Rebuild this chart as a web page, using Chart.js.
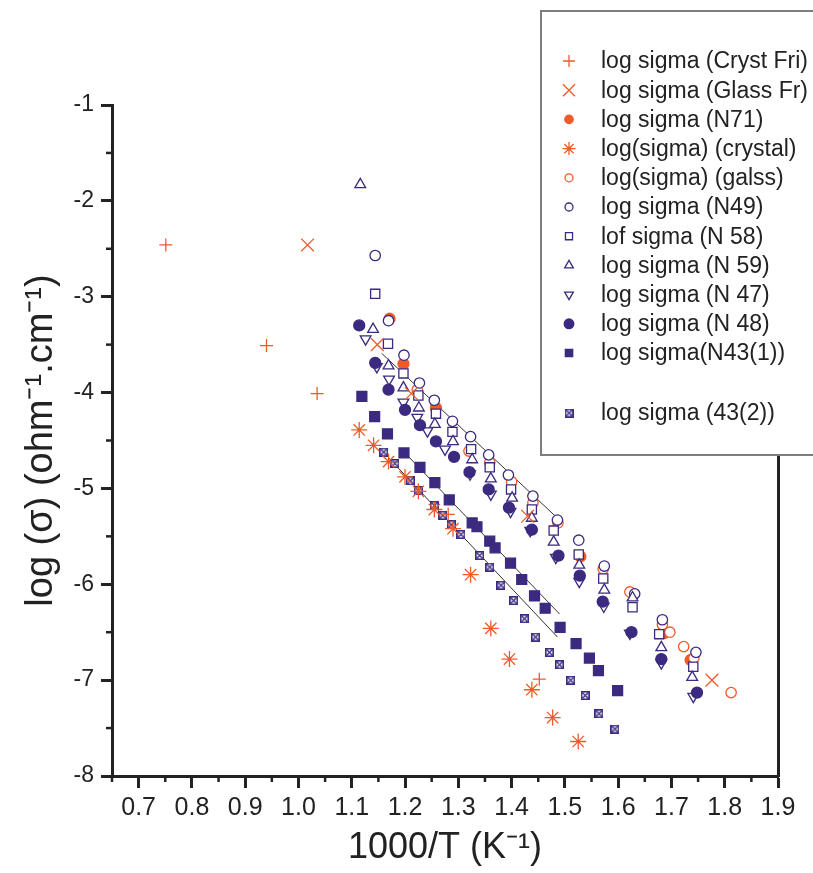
<!DOCTYPE html>
<html>
<head>
<meta charset="utf-8">
<script src="https://cdn.jsdelivr.net/npm/chart.js@4.4.1/dist/chart.umd.min.js"></script>
<style>
  html, body { margin: 0; padding: 0; background: #fff; }
</style>
</head>
<body>
<canvas id="arrhenius" width="813" height="873"></canvas>
<script>
// Conductivity data: [1000/T, log sigma]
const crystFri = [[0.751,-2.46],[0.940,-3.51],[1.035,-4.01],[1.281,-5.27],[1.452,-6.99]];
const glassFr = [[1.017,-2.46],[1.148,-3.50],[1.212,-4.01],[1.430,-5.29],[1.776,-7.00]];
const n71 = [[1.171,-3.23],[1.197,-3.70],[1.258,-4.16],[1.529,-5.71],[1.686,-6.51],[1.736,-6.79]];
const crystal = [[1.114,-4.39],[1.141,-4.55],[1.169,-4.72],[1.200,-4.88],[1.225,-5.03],[1.255,-5.22],
  [1.290,-5.42],[1.323,-5.90],[1.361,-6.46],[1.396,-6.78],[1.438,-7.10],[1.477,-7.39],[1.525,-7.64]];
const galss = [[1.223,-3.97],[1.320,-4.61],[1.359,-4.73],[1.400,-4.93],[1.440,-5.15],[1.487,-5.36],
  [1.572,-5.84],[1.622,-6.08],[1.683,-6.42],[1.697,-6.50],[1.723,-6.65],[1.742,-6.77],[1.812,-7.13]];
const n49 = [[1.144,-2.57],[1.169,-3.25],[1.198,-3.61],[1.227,-3.90],[1.255,-4.08],[1.289,-4.30],
  [1.323,-4.46],[1.357,-4.65],[1.394,-4.86],[1.440,-5.08],[1.486,-5.33],[1.526,-5.54],[1.574,-5.81],
  [1.631,-6.10],[1.683,-6.37],[1.746,-6.71]];
const n58 = [[1.144,-2.97],[1.168,-3.49],[1.197,-3.80],[1.225,-4.03],[1.258,-4.22],[1.289,-4.41],
  [1.324,-4.59],[1.359,-4.78],[1.399,-5.01],[1.438,-5.22],[1.479,-5.44],[1.526,-5.69],[1.572,-5.94],
  [1.627,-6.24],[1.677,-6.52],[1.741,-6.86]];
const n59 = [[1.116,-1.83],[1.140,-3.34],[1.169,-3.72],[1.197,-3.95],[1.226,-4.16],[1.256,-4.33],
  [1.290,-4.51],[1.326,-4.70],[1.361,-4.90],[1.401,-5.10],[1.438,-5.31],[1.479,-5.56],[1.527,-5.80],
  [1.574,-6.06],[1.627,-6.14],[1.681,-6.66],[1.739,-6.97]];
const n47 = [[1.126,-3.44],[1.147,-3.73],[1.170,-3.86],[1.197,-4.10],[1.223,-4.26],[1.242,-4.40],
  [1.275,-4.59],[1.322,-4.85],[1.361,-5.06],[1.398,-5.24],[1.435,-5.44],[1.483,-5.72],[1.527,-5.97],
  [1.573,-6.23],[1.622,-6.51],[1.681,-6.82],[1.741,-7.17]];
const n48 = [[1.114,-3.30],[1.144,-3.69],[1.169,-3.97],[1.200,-4.18],[1.228,-4.34],[1.258,-4.51],
  [1.292,-4.67],[1.321,-4.83],[1.357,-5.01],[1.395,-5.20],[1.438,-5.43],[1.488,-5.70],[1.528,-5.91],
  [1.571,-6.18],[1.625,-6.50],[1.681,-6.78],[1.748,-7.13]];
const n43a = [[1.119,-4.04],[1.143,-4.25],[1.167,-4.43],[1.198,-4.63],[1.228,-4.78],[1.256,-4.94],
  [1.283,-5.12],[1.326,-5.36],[1.335,-5.40],[1.359,-5.55],[1.369,-5.62],[1.398,-5.78],[1.419,-5.95],
  [1.443,-6.12],[1.463,-6.25],[1.491,-6.45],[1.521,-6.62],[1.546,-6.77],[1.563,-6.90],[1.599,-7.11]];
const n43b = [[1.160,-4.62],[1.181,-4.74],[1.210,-4.92],[1.225,-5.02],[1.255,-5.18],[1.271,-5.28],
  [1.287,-5.38],[1.305,-5.48],[1.340,-5.70],[1.359,-5.82],[1.380,-6.01],[1.404,-6.17],[1.424,-6.36],
  [1.445,-6.55],[1.471,-6.71],[1.490,-6.84],[1.511,-7.00],[1.538,-7.16],[1.564,-7.35],[1.594,-7.51]];

// straight fits drawn over the data
const fitUpper = [[1.156,-3.59],[1.490,-5.33]];
const fitMiddle = [[1.200,-4.63],[1.490,-6.31]];
const fitLower = [[1.159,-4.62],[1.486,-6.55]];

const seriesLabels = ['log sigma (Cryst Fri)', 'log sigma (Glass Fr)', 'log sigma (N71)',
  'log(sigma) (crystal)', 'log(sigma) (galss)', 'log sigma (N49)', 'lof sigma (N 58)',
  'log sigma (N 59)', 'log sigma (N 47)', 'log sigma (N 48)', 'log sigma(N43(1))', 'log sigma (43(2))'];
const seriesData = [crystFri, glassFr, n71, crystal, galss, n49, n58, n59, n47, n48, n43a, n43b];

const xTicks = [0.7, 0.8, 0.9, 1.0, 1.1, 1.2, 1.3, 1.4, 1.5, 1.6, 1.7, 1.8, 1.9];
const yTicks = [-1, -2, -3, -4, -5, -6, -7, -8];

const ORANGE = '#f05a28';
const PURPLE = '#3b2a7f';
const INK = '#222222';

Chart.defaults.font.family = '"Liberation Sans", Arial, Helvetica, sans-serif';
Chart.defaults.color = INK;

function crossBox(size) {
    const c = document.createElement('canvas');
    c.width = c.height = size;
    const g = c.getContext('2d');
    g.fillStyle = '#ffffff';
    g.fillRect(0, 0, size, size);
    g.strokeStyle = PURPLE;
    g.lineWidth = 1.6;
    g.strokeRect(0.8, 0.8, size - 1.6, size - 1.6);
    g.lineWidth = 1.3;
    g.beginPath();
    g.moveTo(1.5, 1.5); g.lineTo(size - 1.5, size - 1.5);
    g.moveTo(size - 1.5, 1.5); g.lineTo(1.5, size - 1.5);
    g.stroke();
    return c;
}
const boxMarker = crossBox(9);

// marker look per series, in the same order as seriesLabels
const styles = [
    { style: 'cross', r: 6.5, lr: 6, fg: ORANGE, bg: 'rgba(0,0,0,0)', z: 0 },
    { style: 'crossRot', r: 9, lr: 8.5, fg: ORANGE, bg: 'rgba(0,0,0,0)', z: 1 },
    { style: 'circle', r: 5.5, lr: 4.2, fg: ORANGE, bg: ORANGE, z: 11 },
    { style: 'star', r: 8, lr: 6.5, fg: ORANGE, bg: 'rgba(0,0,0,0)', z: 2 },
    { style: 'circle', r: 5.2, lr: 4, fg: ORANGE, bg: '#ffffff', z: 10 },
    { style: 'circle', r: 5.2, lr: 4, fg: PURPLE, bg: '#ffffff', z: 8 },
    { style: 'rect', r: 6.5, lr: 5, fg: PURPLE, bg: '#ffffff', z: 9 },
    { style: 'triangle', r: 6.2, lr: 5, fg: PURPLE, bg: '#ffffff', z: 7 },
    { style: 'triangle', rot: 180, r: 6.2, lr: 5, fg: PURPLE, bg: '#ffffff', z: 6 },
    { style: 'circle', r: 5.5, lr: 4.8, fg: PURPLE, bg: PURPLE, z: 5 },
    { style: 'rect', r: 7, lr: 5.2, fg: PURPLE, bg: PURPLE, z: 4 },
    { style: boxMarker, r: 4.5, lr: 4.5, fg: PURPLE, bg: PURPLE, z: 3 }
];

const toXY = arr => arr.map(p => ({ x: p[0], y: p[1] }));

const datasets = seriesData.map((d, i) => ({
    label: seriesLabels[i],
    data: toXY(d),
    pointStyle: styles[i].style,
    pointRadius: styles[i].r,
    pointRotation: styles[i].rot || 0,
    pointBorderColor: styles[i].fg,
    pointBackgroundColor: styles[i].bg,
    pointBorderWidth: 1.3,
    showLine: false,
    order: styles[i].z
}));

[fitUpper, fitMiddle, fitLower].forEach(f => {
    datasets.push({
        label: '',
        data: toXY(f),
        showLine: true,
        borderColor: '#333333',
        borderWidth: 1,
        pointRadius: 0,
        order: 12
    });
});

const midpoints = ticks => {
    const out = [];
    const step = ticks[1] - ticks[0];
    out.push(ticks[0] - step / 2);
    for (let i = 0; i < ticks.length - 1; i++) out.push((ticks[i] + ticks[i + 1]) / 2);
    return out;
};

// minor ticks + the boxed legend that overlaps the plot frame
const decorPlugin = {
    id: 'decor',
    afterDraw(chart) {
        const ctx = chart.ctx;
        const area = chart.chartArea;
        const xs = chart.scales.x;
        const ys = chart.scales.y;
        ctx.save();
        ctx.strokeStyle = INK;
        ctx.lineWidth = 2.5;
        midpoints(xTicks).forEach(v => {
            if (v < xs.min - 1e-9) return;
            const p = xs.getPixelForValue(v);
            ctx.beginPath(); ctx.moveTo(p, area.bottom); ctx.lineTo(p, area.bottom + 6); ctx.stroke();
        });
        midpoints(yTicks).forEach(v => {
            if (v > ys.max + 1e-9) return;
            const p = ys.getPixelForValue(v);
            ctx.beginPath(); ctx.moveTo(area.left, p); ctx.lineTo(area.left - 6, p); ctx.stroke();
        });

        // legend box
        ctx.fillStyle = '#ffffff';
        ctx.fillRect(541, 11, 280, 444);
        ctx.strokeStyle = '#7d7d7d';
        ctx.lineWidth = 2;
        ctx.strokeRect(541, 11, 280, 444);

        ctx.font = '23px "Liberation Sans", Arial, sans-serif';
        ctx.textBaseline = 'middle';
        ctx.textAlign = 'left';
        seriesLabels.forEach((lab, i) => {
            const y = i < 11 ? 61 + i * 29.2 : 413;
            const st = styles[i];
            ctx.fillStyle = st.bg;
            ctx.strokeStyle = st.fg;
            ctx.lineWidth = 1.3;
            Chart.helpers.drawPoint(ctx, {
                pointStyle: st.style, radius: st.lr, rotation: st.rot || 0, borderWidth: 1.3
            }, 569, y);
            ctx.fillStyle = INK;
            ctx.fillText(lab, 601, y + 1);
        });
        ctx.restore();
    }
};

new Chart(document.getElementById('arrhenius'), {
    type: 'scatter',
    data: { datasets: datasets },
    options: {
        responsive: false,
        animation: false,
        layout: { padding: { top: 105, right: 35, left: 0, bottom: 0 } },
        plugins: { legend: { display: false }, tooltip: { enabled: false } },
        scales: {
            x: {
                type: 'linear',
                min: 0.65,
                max: 1.9,
                afterBuildTicks: s => { s.ticks = xTicks.map(v => ({ value: v })); },
                afterFit: s => { s.height = 97; },
                grid: { display: true, drawOnChartArea: false, drawTicks: true, tickLength: 12, tickWidth: 3, tickColor: INK },
                border: { display: true, width: 3, color: INK },
                ticks: {
                    font: { size: 25 }, color: INK, padding: 5, maxRotation: 0, autoSkip: false,
                    callback: v => v.toFixed(1)
                },
                title: {
                    display: true, text: '1000/T (K⁻¹)', color: INK,
                    font: { size: 36 }, padding: { top: 0, bottom: 3 }
                }
            },
            y: {
                type: 'linear',
                min: -8,
                max: -1,
                afterBuildTicks: s => { s.ticks = yTicks.map(v => ({ value: v })); },
                afterFit: s => { s.width = 112; },
                grid: { display: true, drawOnChartArea: false, drawTicks: true, tickLength: 11, tickWidth: 3, tickColor: INK },
                border: { display: true, width: 3, color: INK },
                ticks: { font: { size: 23 }, color: INK, padding: 7, callback: v => String(v) },
                title: {
                    display: true, text: 'log (σ) (ohm⁻¹.cm⁻¹)', color: INK,
                    font: { size: 38 }, padding: { top: 19, bottom: 0 }
                }
            },
            yRight: {
                type: 'linear',
                position: 'right',
                min: -8,
                max: -1,
                afterFit: s => { s.width = 0; },
                grid: { display: false },
                ticks: { display: false },
                border: { display: true, width: 3, color: INK }
            }
        }
    },
    plugins: [decorPlugin]
});
</script>
</body>
</html>
